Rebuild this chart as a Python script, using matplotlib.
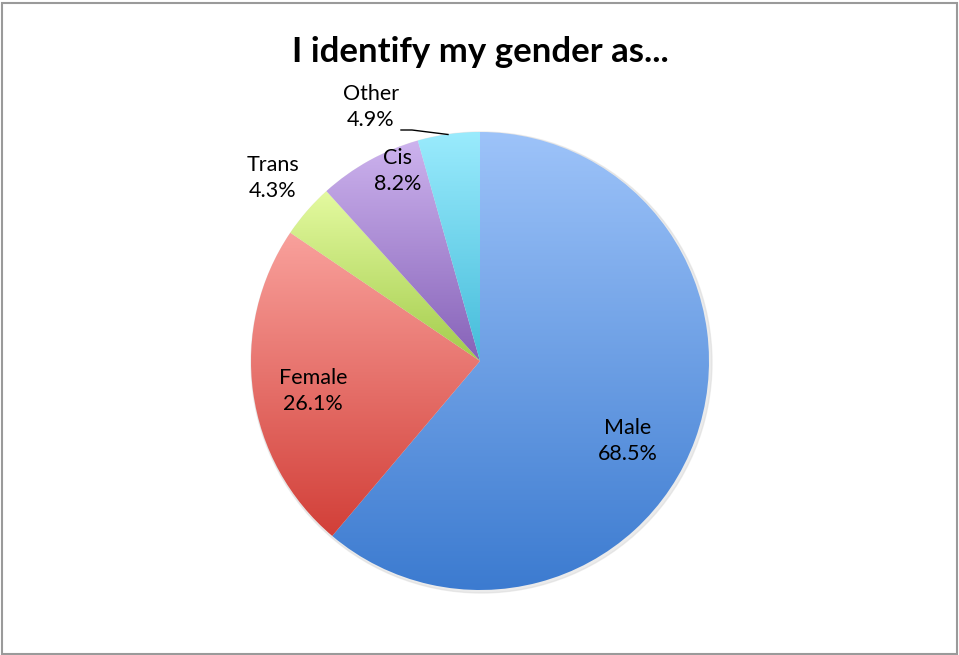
import matplotlib
matplotlib.use('Agg')
import matplotlib.pyplot as plt
import numpy as np
from matplotlib.colors import LinearSegmentedColormap
from matplotlib.patches import Rectangle

# survey shares (multi-select, so they add up to more than 100)
labels = ['Male', 'Female', 'Trans', 'Cis', 'Other']
percents = [68.5, 26.1, 4.3, 8.2, 4.9]

# top / bottom colours of each slice gradient
top_colors = ['#9dc3f9', '#f9a19c', '#e4faa0', '#cdb3ee', '#9aebfd']
bottom_colors = ['#3c7bd0', '#d23f38', '#a3cc4c', '#8662b8', '#45bcda']

W, H = 959, 655
fig = plt.figure(figsize=(W / 100, H / 100), dpi=100)
ax = fig.add_axes([0, 0, 1, 1])

cx, cy, r = 480, H - 361, 229

# faint shadow under the pie
shadow = plt.Circle((cx + 1.5, cy - 1.5), r + 1.5, color='#d8d8d8', alpha=0.5, zorder=0)
ax.add_patch(shadow)

wedges, _ = ax.pie(percents, startangle=90, counterclock=False, center=(cx, cy),
                   radius=r, frame=True,
                   wedgeprops=dict(linewidth=0, facecolor='none'))

grad = np.linspace(1, 0, 256).reshape(-1, 1)
for w, c0, c1 in zip(wedges, top_colors, bottom_colors):
    ext = w.get_path().get_extents()
    cmap = LinearSegmentedColormap.from_list('g', [c1, c0])
    im = ax.imshow(grad, cmap=cmap, aspect='auto', origin='upper',
                   extent=(ext.x0, ext.x1, ext.y0, ext.y1), zorder=1)
    im.set_clip_path(w)

ax.set_xlim(0, W)
ax.set_ylim(0, H)
ax.axis('off')

# label placement (pixel layout, y measured from top)
label_pos = {
    'Male': (628, 441),
    'Female': (313, 391),
    'Trans': (273, 178),
    'Cis': (398, 171),
    'Other': (371, 107),
}
font = 'Lato'
for name, pct in zip(labels, percents):
    x, y = label_pos[name]
    ax.text(x, H - y, f'{name}\n{pct}%', ha='center', va='center',
            fontsize=15.5, family=font, linespacing=1.4, zorder=3)

# leader line for "Other"
ax.plot([401, 412, 448], [H - 130, H - 130, H - 134.5], color='black', lw=1, zorder=3)

fig.text(480 / W, 1 - 52 / H, 'I identify my gender as...', ha='center', va='center',
         fontsize=25, fontweight='bold', family=font)

# chart border
fig.patches.append(Rectangle((1.5 / W, 1.5 / H), (W - 4) / W, (H - 4) / H,
                             transform=fig.transFigure, fill=False,
                             edgecolor='#9a9a9a', linewidth=1.5))

plt.savefig('out.png', dpi=100)
